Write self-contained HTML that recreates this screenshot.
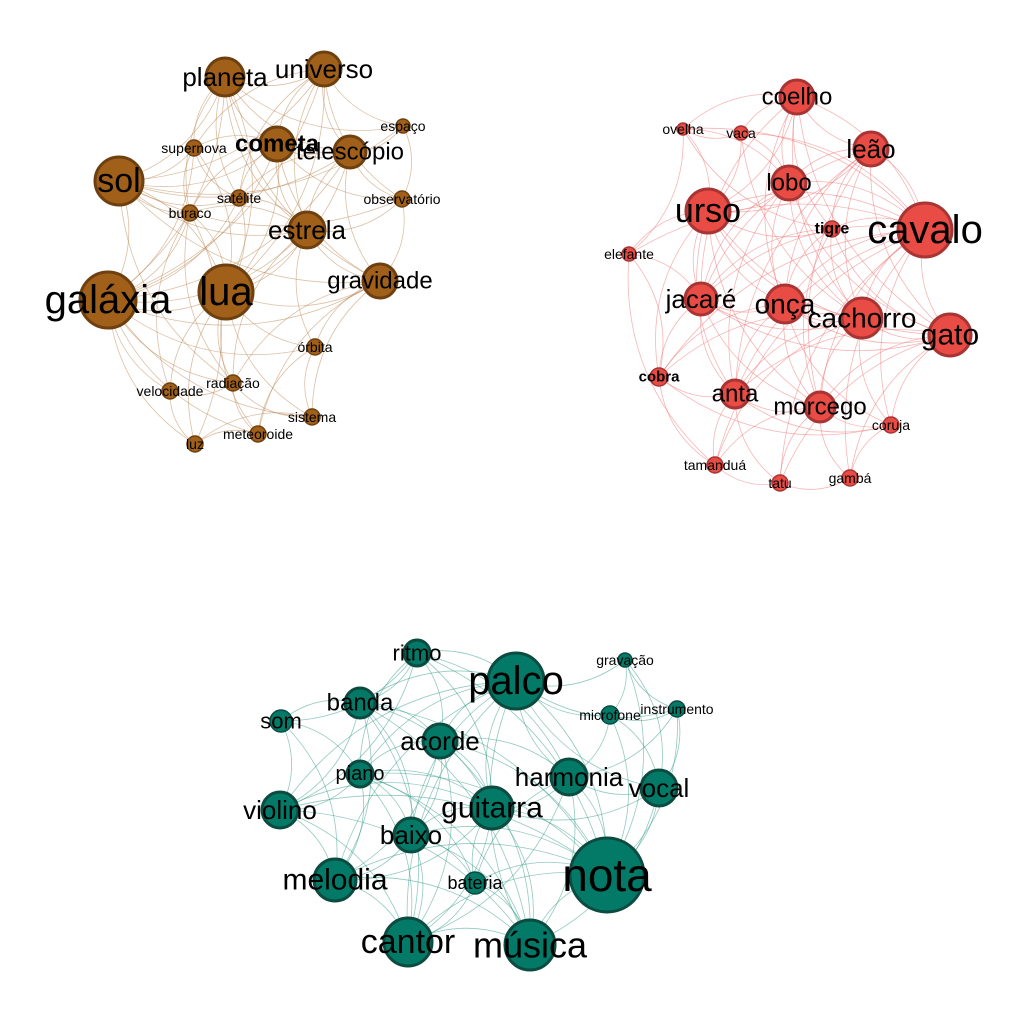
<!DOCTYPE html>
<html><head><meta charset="utf-8">
<style>
html,body{margin:0;padding:0;background:#fff;}
svg{display:block;}
text{font-family:"Liberation Sans",sans-serif;fill:#000;text-anchor:middle;dominant-baseline:central;}
</style></head>
<body>
<svg id="chart" width="1024" height="1024" viewBox="0 0 1024 1024">
<g id="edges"></g><g id="nodes"></g><g id="labels"></g>
</svg>
<script>
// cluster 1: astronomy  [label, x, y, radius, fontSize, bold]
const astroNodes = [
 ["galáxia",108,300,28,40,0],["lua",226,292,27,40,0],["sol",119,181,24,34,0],["planeta",225,77,19,26,0],
 ["universo",324,69,17,26,0],["cometa",277,144,17,24,1],["telescópio",350,152,16,24,0],["estrela",307,230,18,26,0],
 ["gravidade",380,281,17,24,0],["supernova",194,148,8,14,0],["espaço",403,126,7,14,0],["satélite",239,198,8,14,0],
 ["buraco",190,213,8,14,0],["observatório",402,199,8,14,0],["órbita",315,347,8,14,0],["radiação",233,383,8,14,0],
 ["velocidade",170,391,8,14,0],["sistema",312,417,8,14,0],["meteoroide",258,434,8,14,0],["luz",195,444,8,14,0]];
const astroEdges = "0-1 0-2 0-3 0-5 0-7 0-11 0-12 0-15 0-16 0-19 1-2 1-3 1-4 1-7 1-8 1-14 1-15 1-17 1-18 1-12 2-3 2-4 2-5 2-9 2-12 2-7 3-4 3-5 3-6 3-9 3-11 4-6 4-10 4-5 4-13 5-6 5-7 5-11 6-8 6-10 6-13 7-8 7-11 7-14 8-13 8-17 8-18 9-11 12-15 14-17 15-18 16-19 18-19 17-19 16-15 0-8 2-8 13-10 0-4 0-6 0-9 0-14 0-17 0-18 1-5 1-6 1-9 1-11 1-16 1-19 2-6 2-10 2-11 2-13 2-15 3-7 3-8 3-10 3-12 4-7 4-9 4-11 5-8 5-9 5-12 5-13 6-7 6-11 7-12 7-13 7-15 8-14 8-15 12-16 9-12 14-18 15-17 19-12";
// cluster 2: animals
const animalNodes = [
 ["cavalo",925,230,27,40,0],["urso",708,211,22,34,0],["coelho",797,97,17,24,0],["leão",871,149,17,26,0],
 ["lobo",789,183,17,24,0],["tigre",832,229,8,16,1],["jacaré",701,299,16,26,0],["onça",785,304,19,28,0],
 ["cachorro",862,318,20,28,0],["gato",950,335,21,30,0],["anta",735,394,14,24,0],["morcego",820,407,15,24,0],
 ["cobra",659,377,9,15,1],["elefante",629,254,7,14,0],["ovelha",683,129,6,14,0],["vaca",741,133,7,14,0],
 ["coruja",891,425,8,14,0],["tamanduá",715,465,8,14,0],["tatu",780,483,8,14,0],["gambá",850,478,8,14,0]];
const animalEdges = "0-1 0-2 0-3 0-4 0-7 0-8 0-9 0-6 0-11 0-16 1-2 1-3 1-4 1-6 1-7 1-8 1-13 1-14 1-15 1-5 2-3 2-4 2-5 2-15 2-14 3-4 3-5 3-7 3-8 4-6 4-7 4-8 4-15 5-8 5-9 6-7 6-8 6-12 6-10 7-8 7-9 7-10 7-11 8-9 8-11 9-16 9-19 9-11 10-11 10-17 10-18 11-16 11-19 12-17 12-13 13-14 17-18 18-19 16-19 12-10 14-15 0-5 0-10 0-12 0-13 0-14 0-15 0-17 0-18 0-19 1-9 1-10 1-11 1-12 2-6 2-7 2-8 2-9 3-6 3-9 3-10 3-11 4-9 4-10 4-14 5-6 5-7 5-11 6-9 6-11 6-13 7-12 7-16 8-10 8-12 8-16 8-17 9-10 9-18 10-16 11-17 11-18 12-16 13-17 14-5 15-8";
// cluster 3: music
const musicNodes = [
 ["nota",607,875,37,46,0],["palco",516,681,28,40,0],["música",530,945,25,36,0],["cantor",408,942,24,34,0],
 ["melodia",335,880,21,30,0],["guitarra",492,808,21,30,0],["harmonia",569,777,18,26,0],["vocal",659,788,18,26,0],
 ["violino",280,810,18,26,0],["baixo",411,835,17,26,0],["acorde",440,741,17,26,0],["banda",360,703,15,24,0],
 ["ritmo",417,653,13,22,0],["piano",360,774,13,20,0],["som",281,721,11,22,0],["bateria",475,883,11,18,0],
 ["microfone",610,715,9,14,0],["gravação",625,660,7,14,0],["instrumento",677,709,8,14,0]];
const musicEdges = "0-1 0-2 0-3 0-5 0-6 0-7 0-9 0-10 0-15 0-16 1-2 1-5 1-6 1-10 1-11 1-12 1-16 1-17 1-9 2-3 2-4 2-5 2-9 2-15 3-4 3-8 3-9 3-13 4-8 4-9 4-11 4-14 5-6 5-9 5-10 5-13 6-7 6-16 6-18 7-18 7-17 8-11 8-13 8-14 9-10 9-13 10-11 10-12 11-12 11-14 12-13 13-14 15-9 16-17 16-18 17-18 0-18 3-15 2-6 0-4 0-8 0-11 0-12 0-13 0-17 1-3 1-4 1-7 1-8 1-13 1-18 2-7 2-8 2-10 2-13 3-5 3-6 3-10 3-11 4-5 4-10 4-13 5-7 5-8 5-11 5-12 5-15 6-10 6-12 6-15 7-16 8-12 9-11 10-13 14-12 15-13 2-11";

const clusters = [
 {name:"astronomy", nodes:astroNodes, edges:astroEdges, fill:"#a0601a", stroke:"#6e4010", edge:"rgba(185,130,75,0.5)"},
 {name:"animals", nodes:animalNodes, edges:animalEdges, fill:"#e84c44", stroke:"#a83434", edge:"rgba(240,110,110,0.5)"},
 {name:"music", nodes:musicNodes, edges:musicEdges, fill:"#037a68", stroke:"#0b4b40", edge:"rgba(40,150,130,0.5)"}];

const NS="http://www.w3.org/2000/svg";
const gE=document.getElementById("edges"), gN=document.getElementById("nodes"), gL=document.getElementById("labels");
clusters.forEach(c=>{
  c.edges.split(" ").forEach(p=>{
    const [a,b]=p.split("-").map(Number);
    const A=c.nodes[a], B=c.nodes[b];
    const mx=(A[1]+B[1])/2, my=(A[2]+B[2])/2, dx=B[1]-A[1], dy=B[2]-A[2];
    const cx=mx-dy*0.25, cy=my+dx*0.25;
    const path=document.createElementNS(NS,"path");
    path.setAttribute("d",`M${A[1]},${A[2]} Q${cx},${cy} ${B[1]},${B[2]}`);
    path.setAttribute("fill","none");
    path.setAttribute("stroke",c.edge);
    path.setAttribute("stroke-width","0.8");
    
    
    gE.appendChild(path);
  });
  c.nodes.forEach(n=>{
    const ci=document.createElementNS(NS,"circle");
    ci.setAttribute("cx",n[1]); ci.setAttribute("cy",n[2]); ci.setAttribute("r",n[3]);
    ci.setAttribute("fill",c.fill); ci.setAttribute("stroke",c.stroke);
    ci.setAttribute("stroke-width",n[3]>12?3:1.5);
    
    
    gN.appendChild(ci);
    const t=document.createElementNS(NS,"text");
    t.setAttribute("x",n[1]); t.setAttribute("y",n[2]);
    t.setAttribute("font-size",n[4]);
    if(n[5]) t.setAttribute("font-weight","bold");
    t.textContent=n[0];
    
    
    gL.appendChild(t);
  });
});
</script>
</body></html>
